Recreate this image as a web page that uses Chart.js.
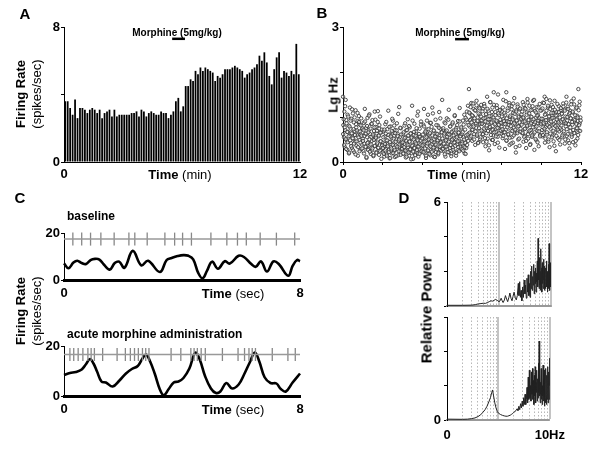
<!DOCTYPE html>
<html lang="en">
<head>
<meta charset="UTF-8">
<title>Firing rate before and after morphine</title>
<script src="https://cdn.jsdelivr.net/npm/chart.js@4"></script>
<style>
  body { margin: 0; background: #fff; }
  #fig { position: relative; width: 600px; height: 450px; overflow: hidden;
         font-family: 'Liberation Sans', Arial, sans-serif; color: #000; }
  #fig canvas { position: absolute; }
  .t { position: absolute; white-space: nowrap; line-height: 1; transform: translate(-50%, -50%); }
  .v { position: absolute; white-space: nowrap; line-height: 1; transform: translate(-50%, -50%) rotate(-90deg); }
  .l { position: absolute; white-space: nowrap; line-height: 1; transform: translateY(-50%); }
</style>
</head>
<body>
<div id="fig">
  <canvas id="chA"></canvas>
  <canvas id="chB"></canvas>
  <canvas id="chC1"></canvas>
  <canvas id="chC2"></canvas>
  <canvas id="chD1"></canvas>
  <canvas id="chD2"></canvas>

  <div class="t" style="left:25px;top:13px;font-size:15px;font-weight:bold">A</div>
  <div class="t" style="left:322px;top:12px;font-size:15px;font-weight:bold">B</div>
  <div class="t" style="left:20px;top:197px;font-size:15px;font-weight:bold">C</div>
  <div class="t" style="left:404px;top:197px;font-size:15px;font-weight:bold">D</div>

  <div class="v" style="left:20px;top:94px;font-size:13px;font-weight:bold">Firing Rate</div>
  <div class="v" style="left:36px;top:94px;font-size:13px">(spikes/sec)</div>
  <div class="v" style="left:333px;top:95px;font-size:13px;font-weight:bold">Lg Hz</div>
  <div class="v" style="left:20px;top:311px;font-size:13px;font-weight:bold">Firing Rate</div>
  <div class="v" style="left:36px;top:311px;font-size:13px">(spikes/sec)</div>
  <div class="v" style="left:426px;top:310px;font-size:15px;font-weight:bold">Relative Power</div>

  <div class="t" style="left:180px;top:174px;font-size:13px"><b>Time</b> (min)</div>
  <div class="t" style="left:459px;top:174px;font-size:13px"><b>Time</b> (min)</div>
  <div class="t" style="left:233px;top:293px;font-size:13px"><b>Time</b> (sec)</div>
  <div class="t" style="left:233px;top:409px;font-size:13px"><b>Time</b> (sec)</div>

  <div class="t" style="left:177px;top:33px;font-size:10px;font-weight:bold">Morphine (5mg/kg)</div>
  <div class="t" style="left:460px;top:33px;font-size:10px;font-weight:bold">Morphine (5mg/kg)</div>
  <div class="l" style="left:67px;top:216px;font-size:12px;font-weight:bold">baseline</div>
  <div class="l" style="left:67px;top:334px;font-size:12px;font-weight:bold">acute morphine administration</div>
</div>

<script>
// ---------- data ----------
// A: firing rate, 7.5 s bins over 12 min
const rateBinMin = 0.125;
const firingRate = [
  3.6, 3.6, 3.2, 2.8, 3.7, 2.6, 3.2, 3.2, 3.1, 2.9, 3.1, 3.2, 3.1, 2.9, 3.1, 2.6,
  2.9, 3.0, 3.1, 2.7, 3.1, 2.7, 2.8, 2.8, 2.8, 2.8, 2.8, 2.9, 2.9, 3.0, 2.7, 3.1,
  3.0, 2.7, 2.9, 3.0, 2.9, 2.8, 2.8, 3.0, 2.9, 2.9, 2.6, 2.8, 3.0, 3.6, 3.8, 3.0,
  3.3, 4.5, 4.5, 4.9, 4.8, 5.4, 5.2, 5.6, 5.4, 5.6, 5.5, 5.4, 5.3, 4.8, 5.1, 5.0,
  5.2, 5.5, 5.5, 5.5, 5.6, 5.7, 5.6, 5.5, 5.4, 5.0, 5.2, 5.3, 5.5, 5.6, 5.8, 6.3,
  6.0, 6.5, 5.9, 5.1, 4.6, 5.5, 6.2, 6.5, 5.0, 5.4, 5.3, 5.1, 5.4, 5.2, 7.0, 5.2
];
const morphineA = [5.5, 6.15];   // injection bar, minutes
const morphineAY = 7.3;
const aXTicks = [0, 12],        aXLabels = ['0', '12'];
const aYTicks = [0, 4, 8],      aYLabels = ['0', '', '8'];

// B: instantaneous frequency of each spike (time in s, lg Hz)
const spikeSec = [
  0,1,3,4,5,7,8,10,11,13,14,15,17,18,20,21,23,24,25,27,28,30,31,33,34,35,37,38,40,41,43,44,45,47,48,50,51,53,54,55,57,58,
  60,62,63,64,66,67,69,70,71,73,74,76,77,78,80,81,82,84,85,87,88,89,91,92,94,95,96,98,99,101,102,103,105,106,108,109,110,112,113,115,116,118,
  120,121,123,124,125,127,128,130,131,133,134,135,137,138,140,141,143,144,145,147,148,150,151,153,154,155,157,158,160,161,163,164,165,167,168,170,171,173,174,175,177,178,
  180,182,183,184,186,187,189,190,191,193,194,196,197,198,200,201,202,204,205,207,208,209,211,212,214,215,216,218,219,221,222,223,225,226,228,229,230,232,233,235,236,238,
  240,241,243,244,245,247,248,250,251,253,254,255,257,258,260,261,263,264,265,267,268,270,271,273,274,275,277,278,280,281,283,284,285,287,288,290,291,293,294,295,297,298,
  300,302,303,304,306,307,309,310,311,313,314,316,317,318,320,321,322,324,325,327,328,329,331,332,334,335,336,338,339,341,342,343,345,346,348,349,350,352,353,355,356,358,
  360,361,363,364,365,367,368,370,371,373,374,375,377,378,380,381,383,384,385,387,388,390,391,393,394,395,397,398,400,401,403,404,405,407,408,410,411,413,414,415,417,418,
  420,422,423,424,426,427,429,430,431,433,434,436,437,438,440,441,442,444,445,447,448,449,451,452,454,455,456,458,459,461,462,463,465,466,468,469,470,472,473,475,476,478,
  480,481,483,484,485,487,488,490,491,493,494,495,497,498,500,501,503,504,505,507,508,510,511,513,514,515,517,518,520,521,523,524,525,527,528,530,531,533,534,535,537,538,
  540,542,543,544,546,547,549,550,551,553,554,556,557,558,560,561,562,564,565,567,568,569,571,572,574,575,576,578,579,581,582,583,585,586,588,589,590,592,593,595,596,598,
  600,601,603,604,605,607,608,610,611,613,614,615,617,618,620,621,623,624,625,627,628,630,631,633,634,635,637,638,640,641,643,644,645,647,648,650,651,653,654,655,657,658,
  660,662,663,664,666,667,669,670,671,673,674,676,677,678,680,681,682,684,685,687,688,689,691,692,694,695,696,698,699,701,702,703,705,706,708,709,710,712,713,715,716,718,
  0.5,2,3.5,5,6.5,8,9.5,11,12.5,14,15.5,17,18.5,20,21.5,23,24.5,26,27.5,29,30.5,32,33.5,35,36.5,38,39.5,41,42.5,44,45.5,47,48.5,50,51.5,53,54.5,56,57.5,59,
  60.5,62,63.5,65,66.5,68,69.5,71,72.5,74,75.5,77,78.5,80,81.5,83,84.5,86,87.5,89,90.5,92,93.5,95,96.5,98,99.5,101,102.5,104,105.5,107,108.5,110,111.5,113,114.5,116,117.5,119,
  120.5,122,123.5,125,126.5,128,129.5,131,132.5,134,135.5,137,138.5,140,141.5,143,144.5,146,147.5,149,150.5,152,153.5,155,156.5,158,159.5,161,162.5,164,165.5,167,168.5,170,171.5,173,174.5,176,177.5,179,
  180.5,182,183.5,185,186.5,188,189.5,191,192.5,194,195.5,197,198.5,200,201.5,203,204.5,206,207.5,209,210.5,212,213.5,215,216.5,218,219.5,221,222.5,224,225.5,227,228.5,230,231.5,233,234.5,236,237.5,239,
  240.5,242,243.5,245,246.5,248,249.5,251,252.5,254,255.5,257,258.5,260,261.5,263,264.5,266,267.5,269,270.5,272,273.5,275,276.5,278,279.5,281,282.5,284,285.5,287,288.5,290,291.5,293,294.5,296,297.5,299,
  300.5,302,303.5,305,306.5,308,309.5,311,312.5,314,315.5,317,318.5,320,321.5,323,324.5,326,327.5,329,330.5,332,333.5,335,336.5,338,339.5,341,342.5,344,345.5,347,348.5,350,351.5,353,354.5,356,357.5,359,
  360.5,362,363.5,365,366.5,368,369.5,371,372.5,374,375.5,377,378.5,380,381.5,383,384.5,386,387.5,389,390.5,392,393.5,395,396.5,398,399.5,401,402.5,404,405.5,407,408.5,410,411.5,413,414.5,416,417.5,419,
  420.5,422,423.5,425,426.5,428,429.5,431,432.5,434,435.5,437,438.5,440,441.5,443,444.5,446,447.5,449,450.5,452,453.5,455,456.5,458,459.5,461,462.5,464,465.5,467,468.5,470,471.5,473,474.5,476,477.5,479,
  480.5,482,483.5,485,486.5,488,489.5,491,492.5,494,495.5,497,498.5,500,501.5,503,504.5,506,507.5,509,510.5,512,513.5,515,516.5,518,519.5,521,522.5,524,525.5,527,528.5,530,531.5,533,534.5,536,537.5,539,
  540.5,542,543.5,545,546.5,548,549.5,551,552.5,554,555.5,557,558.5,560,561.5,563,564.5,566,567.5,569,570.5,572,573.5,575,576.5,578,579.5,581,582.5,584,585.5,587,588.5,590,591.5,593,594.5,596,597.5,599,
  600.5,602,603.5,605,606.5,608,609.5,611,612.5,614,615.5,617,618.5,620,621.5,623,624.5,626,627.5,629,630.5,632,633.5,635,636.5,638,639.5,641,642.5,644,645.5,647,648.5,650,651.5,653,654.5,656,657.5,659,
  660.5,662,663.5,665,666.5,668,669.5,671,672.5,674,675.5,677,678.5,680,681.5,683,684.5,686,687.5,689,690.5,692,693.5,695,696.5,698,699.5,701,702.5,704,705.5,707,708.5,710,711.5,713,714.5,716,717.5,719
];
const spikeLgHz = [
  1.45,0.82,0.55,1.12,0.34,0.71,1.38,0.93,0.48,0.27,1.05,0.66,0.81,0.19,0.58,1.21,0.74,0.42,0.96,0.31,0.63,1.08,0.52,0.88,0.22,0.69,0.45,1.15,0.77,0.36,0.59,0.91,0.14,0.67,1.02,0.49,0.83,0.28,0.61,0.97,0.39,0.73,
  0.52,0.24,0.87,0.41,1.18,0.63,0.33,0.76,0.09,0.55,0.98,0.44,0.29,0.71,1.06,0.37,0.62,0.18,0.84,0.47,0.26,0.93,0.58,0.13,0.69,0.35,1.12,0.51,0.78,0.22,0.64,0.40,0.89,0.31,0.57,0.16,0.74,1.01,0.46,0.27,0.66,0.38,
  0.43,0.21,0.68,0.35,0.12,0.57,0.84,0.29,0.48,0.17,0.73,0.39,1.14,0.26,0.61,0.08,0.45,0.79,0.33,0.54,0.19,0.66,0.92,0.41,0.24,0.58,0.11,0.71,0.37,0.50,0.86,0.28,0.63,0.15,0.47,1.22,0.34,0.56,0.22,0.75,0.40,0.31,
  0.36,0.62,0.18,0.49,0.81,0.27,0.55,0.10,0.70,0.42,0.23,0.95,0.33,0.58,0.14,0.46,0.77,0.29,0.64,0.20,0.52,1.25,0.38,0.07,0.60,0.31,0.85,0.44,0.16,0.68,0.25,0.53,1.03,0.35,0.12,0.57,0.41,0.74,0.21,0.48,0.90,0.30,
  0.54,0.28,0.83,0.40,1.18,0.19,0.65,0.47,0.09,0.72,0.36,0.58,1.05,0.24,0.61,0.43,0.87,0.15,0.51,0.33,0.78,1.21,0.45,0.26,0.69,0.12,0.56,0.38,0.94,0.22,0.63,0.49,0.30,0.81,0.17,0.59,1.11,0.42,0.27,0.74,0.35,0.66,
  1.38,0.46,0.71,0.25,0.59,0.88,0.34,0.12,0.67,0.50,0.97,0.29,0.62,0.41,1.16,0.21,0.55,0.79,0.37,0.64,0.18,0.48,0.85,0.32,0.70,0.53,0.23,1.02,0.44,0.61,0.14,0.76,0.39,0.57,0.91,0.27,0.66,0.47,1.20,0.35,0.58,0.74,
  0.45,0.28,0.92,0.36,0.55,1.05,0.19,0.42,0.98,0.31,0.52,1.12,0.88,1.25,0.63,1.62,0.79,1.08,0.54,0.95,1.31,0.71,0.47,1.02,0.83,1.18,0.62,0.91,0.38,1.14,0.76,1.36,0.58,0.99,0.85,0.44,1.21,0.69,1.06,0.51,0.93,1.27,
  0.92,0.61,1.18,0.44,0.83,1.29,0.71,0.98,0.35,1.07,0.64,1.45,0.88,0.52,1.14,0.77,0.26,0.95,1.33,0.68,0.86,1.02,0.49,1.21,0.73,0.59,1.55,0.94,0.40,1.11,0.81,0.67,1.26,0.90,0.56,1.50,0.75,1.04,0.32,0.87,1.16,0.63,
  0.78,1.12,0.53,0.96,1.38,0.66,0.85,0.29,1.05,0.72,1.55,0.47,0.91,1.19,0.60,0.82,1.31,0.38,1.00,0.70,0.89,1.24,0.55,0.97,0.43,1.09,0.76,1.42,0.63,0.84,0.21,1.15,0.93,0.68,1.28,0.50,1.03,0.80,0.36,1.17,0.74,0.99,
  1.06,0.64,0.88,1.33,0.45,0.97,0.73,1.20,0.58,0.86,0.31,1.10,0.79,1.40,0.52,0.94,0.67,1.25,0.83,0.40,1.01,0.71,1.16,0.56,0.90,1.36,0.62,0.84,0.27,1.13,0.77,0.98,0.48,1.22,0.69,0.87,1.05,0.35,0.92,1.29,0.60,0.81,
  0.89,1.15,0.57,0.96,1.32,0.70,0.84,1.45,0.43,1.07,0.78,1.40,0.61,0.93,1.21,0.50,0.86,1.02,0.33,1.18,0.74,0.95,1.27,0.59,0.82,1.09,0.46,0.99,1.36,0.66,0.88,0.24,1.12,0.76,1.04,0.53,0.91,1.24,0.68,0.85,0.39,1.14,
  0.72,1.08,0.55,0.94,1.30,0.63,0.87,1.17,0.41,1.01,0.79,1.45,0.58,0.92,1.23,0.48,0.84,1.06,0.30,1.14,0.69,0.97,1.35,0.60,0.83,1.10,0.44,0.95,1.28,0.65,0.89,0.37,1.19,0.75,1.03,0.52,0.91,1.62,0.70,1.26,0.86,0.99,
  0.62,0.95,0.38,0.77,1.24,0.51,0.29,0.86,0.67,0.44,1.01,0.57,0.21,0.79,0.48,0.92,0.35,0.64,1.17,0.53,0.26,0.73,0.41,0.99,0.60,0.17,0.84,0.46,0.70,1.09,0.33,0.55,0.89,0.24,0.68,0.43,0.81,0.58,0.30,0.75,
  0.47,0.71,0.19,0.58,0.90,0.34,0.63,0.11,0.80,0.42,0.27,0.66,1.03,0.50,0.23,0.74,0.39,0.56,0.85,0.30,0.61,0.15,0.49,0.77,0.36,0.94,0.54,0.20,0.69,0.43,1.13,0.32,0.59,0.82,0.25,0.65,0.46,0.07,0.72,0.37,
  0.31,0.55,0.18,0.72,0.40,0.26,0.63,0.89,0.14,0.48,0.35,0.60,0.22,0.78,0.44,0.09,0.57,0.30,0.69,0.96,0.38,0.20,0.52,0.81,0.27,0.64,0.45,0.13,0.70,0.34,0.58,1.07,0.24,0.50,0.39,0.76,0.16,0.61,0.42,0.29,
  0.44,0.19,0.66,0.33,0.53,0.86,0.25,0.47,0.12,0.71,0.38,0.59,0.21,0.80,0.45,0.28,0.63,0.06,0.54,0.36,0.92,0.23,0.50,0.67,0.31,0.15,0.58,0.41,0.75,0.27,0.49,1.12,0.34,0.62,0.18,0.56,0.39,0.83,0.24,0.52,
  0.37,0.61,0.22,0.79,0.45,0.30,0.68,0.14,0.55,0.92,0.41,0.26,0.73,0.50,0.18,0.64,0.35,0.87,0.47,0.23,0.59,1.08,0.32,0.70,0.43,0.11,0.57,0.39,0.82,0.28,0.62,0.48,0.20,0.76,0.53,0.34,0.97,0.44,0.25,0.66,
  0.52,0.29,0.75,0.41,0.63,0.17,0.86,0.48,0.34,0.70,0.56,0.22,0.94,0.45,0.61,0.31,0.79,0.38,0.13,0.67,0.50,0.88,0.27,0.59,0.43,1.04,0.36,0.72,0.20,0.55,0.82,0.46,0.33,0.65,0.24,0.90,0.57,0.40,0.77,0.62,
  0.41,0.66,0.25,0.83,0.50,0.33,0.72,0.18,0.59,0.94,0.38,0.61,0.47,0.82,1.10,0.65,0.93,1.22,0.57,0.88,1.04,0.72,1.30,0.79,0.50,0.97,1.15,0.68,0.86,1.26,0.61,0.91,0.42,1.08,0.75,1.19,0.84,0.55,1.01,0.70,
  0.85,1.13,0.62,0.97,0.74,1.24,0.53,0.90,1.06,0.45,0.81,1.18,0.69,0.95,0.37,1.02,0.78,1.33,0.60,0.88,1.11,0.71,0.49,0.99,1.27,0.66,0.84,1.04,0.57,0.92,1.20,0.76,0.43,1.08,0.83,0.64,1.15,0.94,0.70,0.87,
  1.01,0.73,1.21,0.58,0.91,1.09,0.66,0.84,1.35,0.48,0.97,0.77,1.14,0.62,0.89,1.26,0.54,1.03,0.80,0.41,1.17,0.69,0.94,1.30,0.59,0.86,1.07,0.72,0.33,1.12,0.92,0.64,1.23,0.79,1.00,0.52,0.88,1.19,0.67,0.96,
  0.83,1.12,0.65,0.99,1.27,0.56,0.90,0.74,1.18,0.47,1.05,0.81,1.32,0.62,0.93,1.08,0.70,0.38,1.15,0.86,1.00,0.59,1.24,0.77,0.95,1.38,0.66,0.88,0.51,1.10,0.79,1.03,0.44,0.92,1.21,0.68,0.97,0.57,1.14,0.85,
  0.96,0.71,1.19,0.60,0.87,1.31,0.74,1.05,0.52,0.93,1.14,0.66,0.82,1.25,0.45,1.01,0.78,1.37,0.63,0.90,1.09,0.55,0.98,1.22,0.69,0.84,0.36,1.16,0.80,1.03,0.58,0.94,1.29,0.72,0.88,1.11,0.49,0.99,0.76,1.20,
  0.81,1.07,0.59,0.95,1.23,0.68,0.90,1.14,0.50,0.86,1.32,0.73,1.00,0.62,1.18,0.84,0.42,1.09,0.77,0.97,1.28,0.56,0.89,1.12,0.71,1.41,0.64,0.93,1.04,0.47,0.85,1.21,0.75,0.99,0.60,1.15,0.82,1.34,0.69,0.92
];
const morphineB = [5.65, 6.35];
const morphineBY = 2.73;
const bXTicks = [0, 2, 4, 6, 8, 10, 12];
const bXLabels = ['0', '', '', '', '', '', '12'];
const bYTicks = [0, 1, 2, 3],   bYLabels = ['0', '', '', '3'];

// C: 8 s firing-rate traces and spike rasters
const baseT = [0,0.15,0.32,0.45,0.6,0.75,0.9,1.05,1.2,1.35,1.55,1.72,1.87,2.05,2.33,2.62,2.85,3.25,3.48,3.65,3.85,4.05,4.22,4.38,4.55,4.70,4.85,5.02,5.22,5.45,5.62,5.92,6.1,6.35,6.5,6.68,6.88,7.1,7.28,7.6,7.75,7.9,8.0];
const baseRate = [7.1,5.0,7.4,8.2,7.2,6.8,8.5,9.0,8.7,6.6,4.4,7.2,7.8,5.2,12.4,6.2,8.2,3.4,8.5,9.4,10.2,10.6,10.3,8.8,3.0,0.7,4.0,7.8,4.8,8.0,7.0,10.3,9.8,6.8,5.6,7.9,3.6,7.9,6.8,1.8,6.0,8.5,8.0];
const baseSpikes = [0.3,0.6,0.9,1.25,1.7,2.2,2.4,2.82,3.42,3.75,4.02,4.32,4.98,5.52,5.88,6.18,6.65,7.2,7.82];
const baseRaster = 17.4;
const morT = [0,0.2,0.4,0.6,0.75,0.88,1.0,1.12,1.27,1.42,1.65,1.88,2.1,2.3,2.5,2.65,2.78,2.92,3.08,3.25,3.38,3.55,3.72,3.88,4.05,4.25,4.45,4.6,4.78,4.98,5.15,5.3,5.5,5.7,5.92,6.1,6.3,6.47,6.62,6.8,7.0,7.2,7.35,7.52,7.75,8.0];
const morRate = [8.4,9.2,9.6,10.6,12.8,14.8,13.0,9.8,5.8,5.4,3.8,6.2,9.0,10.8,12.0,14.8,16.6,13.8,8.8,2.6,0.3,2.8,5.4,5.8,7.2,11.0,17.3,14.6,8.0,3.0,1.2,1.8,5.2,3.0,4.6,8.5,13.5,17.4,13.8,7.5,5.2,5.0,2.8,1.8,5.4,9.0];
const morSpikes = [0.2,0.33,0.48,0.64,0.81,0.92,1.03,1.31,1.80,2.08,2.25,2.39,2.52,2.66,2.77,2.88,3.63,3.96,4.30,4.41,4.52,4.65,4.79,5.37,5.90,6.12,6.27,6.38,6.49,7.06,7.59,7.84];
const morRaster = 16.6;
const cXTicks = [0, 8],   cXLabels = ['0', '8'];
const cYTicks = [0, 20],  cYLabels = ['0', '20'];

// D: power spectra (Hz, relative power)
const dTopHz = [0.1,0.2,0.3,0.35,0.4,0.45,0.5,0.55,0.6,0.65,0.7,0.75,0.8,0.85,0.9,0.95,1.0,1.05,1.1,1.15,1.2,1.27,1.33,1.4,1.47,1.55,1.62,1.7,1.78,1.86,1.95,2.05,2.15,2.25,2.35,2.42,2.5,2.58,2.66,2.75,2.85,2.95,3.05,3.15,3.25,3.35,3.45,3.55,3.65,3.75,3.85,3.95,4.05,4.15,4.25,4.35,4.45,4.55,4.65,4.75,4.85,4.95,5.05,5.15,5.25,5.35,5.45,5.55,5.65,5.72,5.8,5.9,6.0,6.1,6.2,6.3,6.4,6.5,6.6,6.7,6.8,6.9,7.0,7.1,7.2,7.3,7.4,7.5,7.6,7.7,7.8,7.9,8.0,8.1,8.2,8.3,8.4,8.5,8.6,8.7,8.8,8.9,9.0,9.1,9.2,9.3,9.4,9.5,9.6,9.7,9.8,9.9,10];
const dTopPow = [0.04,0.04,0.05,0.08,0.12,0.14,0.16,0.15,0.2,0.25,0.3,0.28,0.32,0.38,0.35,0.3,0.25,0.3,0.45,0.3,0.2,0.35,0.6,0.4,0.25,0.5,0.75,0.45,0.3,0.55,0.8,0.5,0.35,0.6,1.3,0.6,1.4,0.5,0.9,0.3,1.1,0.5,1.5,0.7,1.2,0.45,1.6,0.8,1.8,0.6,1.3,0.5,2.0,1.0,2.3,0.9,1.7,1.2,2.4,0.7,2.0,1.3,2.2,0.8,1.9,1.4,2.6,1.1,3.9,1.5,2.5,1.0,2.8,1.2,2.0,0.9,3.3,1.4,2.2,0.8,2.5,1.3,1.9,1.0,2.7,1.5,2.1,0.9,2.3,1.2,1.8,1.0,2.2,1.4,2.6,1.1,1.9,0.8,2.0,1.3,1.7,1.0,2.4,1.2,3.6,1.6,2.2,0.9,2.0,1.3,2.5,1.1,1.6];
const dBotHz = [0.1,0.2,0.25,0.3,0.35,0.4,0.45,0.5,0.55,0.6,0.65,0.7,0.74,0.77,0.8,0.85,0.9,0.95,1.0,1.1,1.2,1.3,1.4,1.5,1.6,1.7,1.8,1.9,2.0,2.1,2.2,2.3,2.4,2.5,2.6,2.7,2.8,2.9,3.0,3.1,3.2,3.3,3.4,3.5,3.6,3.7,3.8,3.9,4.0,4.1,4.2,4.3,4.4,4.5,4.6,4.7,4.8,4.9,5.0,5.1,5.2,5.3,5.4,5.5,5.6,5.7,5.8,5.9,6.0,6.1,6.2,6.3,6.4,6.5,6.6,6.7,6.8,6.9,7.0,7.1,7.2,7.3,7.4,7.5,7.6,7.7,7.8,7.9,8.0,8.1,8.2,8.3,8.4,8.5,8.6,8.7,8.8,8.9,9.0,9.1,9.2,9.3,9.4,9.5,9.6,9.7,9.8,9.9,10];
const dBotPow = [0.05,0.04,0.05,0.08,0.12,0.2,0.3,0.45,0.6,0.8,1.05,1.3,1.6,1.75,1.45,1.0,0.7,0.5,0.4,0.32,0.27,0.24,0.22,0.22,0.25,0.28,0.33,0.38,0.45,0.5,0.55,0.65,0.55,0.8,0.6,0.95,0.7,1.1,0.8,1.3,0.9,1.5,0.9,1.2,1.9,1.0,2.5,1.2,2.9,1.3,2.0,1.1,2.8,1.5,3.0,1.2,2.3,0.9,2.6,1.4,3.1,1.0,2.2,1.6,2.9,1.1,2.4,1.3,3.3,1.6,4.6,1.4,2.7,1.0,2.2,1.5,3.0,1.2,2.5,0.9,2.0,1.4,3.2,1.1,2.4,1.6,2.9,0.8,2.1,1.3,2.7,1.0,3.0,1.5,2.2,0.9,2.6,1.2,3.1,1.4,2.3,1.0,2.8,1.6,2.1,1.2,3.6,1.3,2.0];
const dXTicks = [0.1,0.2,0.3,0.4,0.5,0.6,0.7,0.8,0.9,1,2,3,4,5,6,7,8,9,10];
const dXLabels = ['0','','','','','','','','','','','','','','','','','','10Hz'];
const dYTicks = [0, 2, 4, 6];
const dTopYLabels = ['', '', '', '6'];
const dBotYLabels = ['0', '', '', ''];

// ---------- layout helpers ----------
const PAD_L = 45, PAD_T = 12, PAD_R = 22, PAD_B = 30;
Chart.defaults.font.family = "'Liberation Sans', Arial, sans-serif";
Chart.defaults.color = '#000';

function place(id, l, t, r, b) {
  const c = document.getElementById(id);
  c.width = r - l + PAD_L + PAD_R;
  c.height = b - t + PAD_T + PAD_B;
  c.style.left = (l - PAD_L) + 'px';
  c.style.top = (t - PAD_T) + 'px';
  return c;
}

function makeAxis(o) {
  return {
    type: o.type || 'linear',
    min: o.min, max: o.max, offset: false,
    afterBuildTicks: s => { s.ticks = o.ticks.map(v => ({ value: v })); },
    afterFit: s => { if (s.isHorizontal()) s.height = PAD_B; else s.width = PAD_L; },
    ticks: {
      autoSkip: false, maxRotation: 0, minRotation: 0,
      padding: o.pad, color: '#000',
      font: { size: 13, weight: 'bold' },
      callback: (v, i) => o.labels[i] || ''
    },
    grid: Object.assign({
      display: true, drawOnChartArea: false, offset: false,
      drawTicks: o.tickLen > 0, tickLength: o.tickLen || 0, color: '#000'
    }, o.grid || {}),
    border: Object.assign({ display: true, color: '#000', width: 1 }, o.border || {})
  };
}

function baseOptions(x, y) {
  return {
    responsive: false, animation: false, events: [],
    layout: { padding: { left: 0, top: PAD_T, right: PAD_R, bottom: 0 } },
    plugins: { legend: { display: false }, tooltip: { enabled: false } },
    scales: { x: x, y: y }
  };
}

function hBar(xs, y) {
  return { type: 'line', data: xs.map(x => ({ x: x, y: y })), borderColor: '#000',
           borderWidth: 2.5, pointRadius: 0, showLine: true, clip: false };
}

// ---------- A: firing rate histogram ----------
new Chart(place('chA', 64, 27, 300, 162), {
  type: 'bar',
  data: {
    datasets: [
      { type: 'bar', data: firingRate.map((v, i) => ({ x: (i + 0.5) * rateBinMin, y: v })),
        backgroundColor: '#000', categoryPercentage: 1, barPercentage: 0.72 },
      hBar(morphineA, morphineAY)
    ]
  },
  options: baseOptions(
    makeAxis({ min: 0, max: 12, ticks: aXTicks, labels: aXLabels, tickLen: 0, pad: 5 }),
    makeAxis({ min: 0, max: 8, ticks: aYTicks, labels: aYLabels, tickLen: 3, pad: 1 })
  )
});

// ---------- B: instantaneous frequency scatter ----------
const nB = Math.min(spikeSec.length, spikeLgHz.length);
const bPts = [];
for (let i = 0; i < nB; i++) bPts.push({ x: spikeSec[i] / 60, y: spikeLgHz[i] });
new Chart(place('chB', 343, 27, 581, 162), {
  type: 'scatter',
  data: {
    datasets: [
      { data: bPts, pointRadius: 1.7, pointBorderWidth: 0.9, pointBorderColor: '#3a3a3a',
        pointBackgroundColor: 'rgba(255,255,255,0.5)', clip: false },
      hBar(morphineB, morphineBY)
    ]
  },
  options: baseOptions(
    makeAxis({ min: 0, max: 12, ticks: bXTicks, labels: bXLabels, tickLen: 3, pad: 2 }),
    makeAxis({ min: 0, max: 3, ticks: bYTicks, labels: bYLabels, tickLen: 3, pad: 1 })
  )
});

// ---------- C: rate traces with spike rasters ----------
function traceChart(id, top, bottom, ts, rates, spikes, level) {
  new Chart(place(id, 64, top, 300, bottom), {
    type: 'line',
    data: {
      datasets: [
        { data: cXTicks.map(x => ({ x: x, y: level })), borderColor: '#999', borderWidth: 1.5,
          pointRadius: 0 },
        { data: spikes.map(t => ({ x: t, y: level })), showLine: false, pointStyle: 'line',
          pointRotation: 90, pointRadius: 6.5, pointBorderColor: '#888', pointBorderWidth: 1.3,
          clip: false },
        { data: ts.map((t, i) => ({ x: t, y: rates[i] })), borderColor: '#000', borderWidth: 2.6,
          pointRadius: 0, tension: 0.4, clip: false }
      ]
    },
    options: baseOptions(
      makeAxis({ min: 0, max: 8, ticks: cXTicks, labels: cXLabels, tickLen: 0, pad: 6,
                 border: { width: 3 } }),
      makeAxis({ min: 0, max: 20, ticks: cYTicks, labels: cYLabels, tickLen: 3, pad: 1 })
    )
  });
}
traceChart('chC1', 233, 280, baseT, baseRate, baseSpikes, baseRaster);
traceChart('chC2', 346, 396, morT, morRate, morSpikes, morRaster);

// ---------- D: power spectra on log frequency axis ----------
function isDecade(v) { return Math.abs(v - 1) < 1e-9 || Math.abs(v - 10) < 1e-9; }
function specChart(id, top, bottom, hz, pow, xLabels, yLabels) {
  const grid = {
    drawOnChartArea: true,
    color: c => (c.tick && c.tick.value <= 0.1) ? 'rgba(0,0,0,0)' : (c.tick && isDecade(c.tick.value) ? '#c4c4c4' : '#9a9a9a'),
    lineWidth: c => (c.tick && isDecade(c.tick.value)) ? 2 : 0.7
  };
  new Chart(place(id, 447, top, 551, bottom), {
    type: 'line',
    data: {
      datasets: [
        { data: hz.map((f, i) => ({ x: f, y: pow[i] })), borderColor: '#222', borderWidth: 1,
          pointRadius: 0, tension: 0 }
      ]
    },
    options: baseOptions(
      makeAxis({ type: 'logarithmic', min: 0.1, max: 10, ticks: dXTicks, labels: xLabels,
                 tickLen: 0, pad: 8, grid: grid,
                 border: { color: '#999', width: 2,
                           dash: c => (c.tick && !isDecade(c.tick.value)) ? [1.5, 2] : [] } }),
      makeAxis({ min: 0, max: 6, ticks: dYTicks, labels: yLabels, tickLen: 3, pad: 3 })
    )
  });
}
specChart('chD1', 202, 306, dTopHz, dTopPow, dXTicks.map(() => ''), dTopYLabels);
specChart('chD2', 317, 420, dBotHz, dBotPow, dXLabels, dBotYLabels);
</script>
</body>
</html>
